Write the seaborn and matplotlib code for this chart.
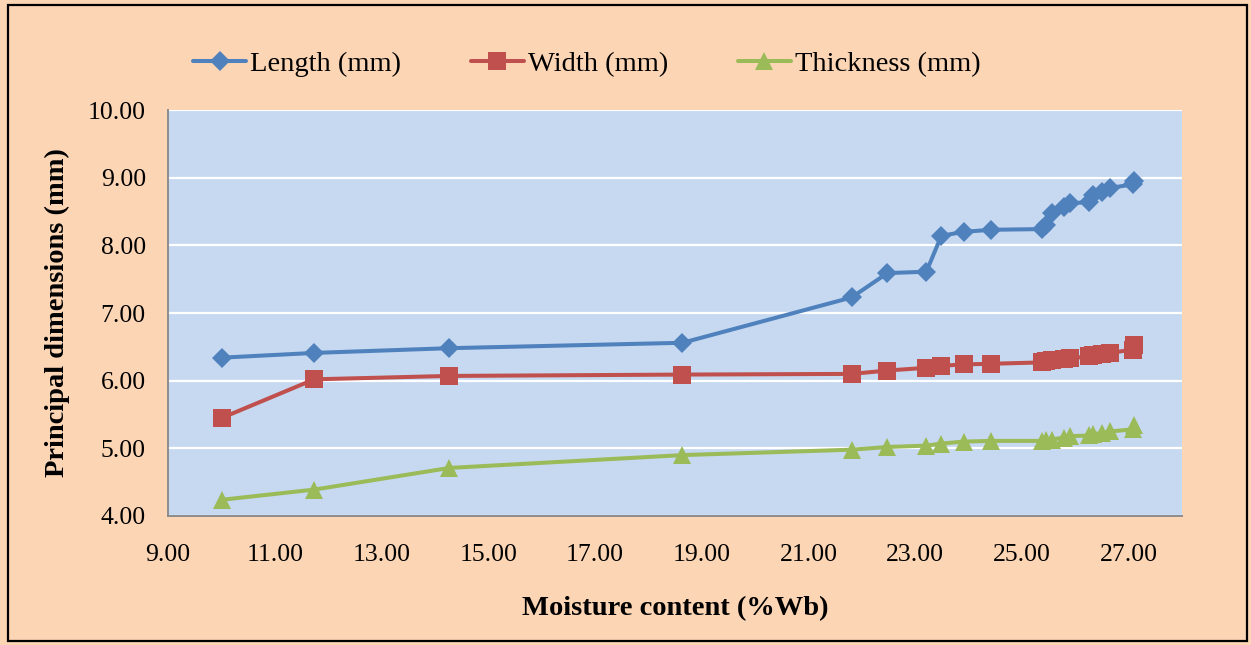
import matplotlib
matplotlib.use("Agg")
import matplotlib.pyplot as plt
import seaborn as sns
import pandas as pd
from matplotlib.patches import Rectangle
from matplotlib.ticker import FormatStrFormatter

# ---- data ----
moisture = [10.01, 11.74, 14.27, 18.64, 21.81, 22.48, 23.21, 23.49, 23.91, 24.43,
            25.38, 25.46, 25.57, 25.78, 25.91, 26.25, 26.34, 26.51, 26.66, 27.08, 27.10]
length = [6.34, 6.41, 6.48, 6.56, 7.23, 7.59, 7.61, 8.14, 8.20, 8.23,
          8.24, 8.30, 8.48, 8.56, 8.62, 8.64, 8.74, 8.79, 8.85, 8.90, 8.95]
width = [5.45, 6.02, 6.07, 6.09, 6.10, 6.15, 6.19, 6.22, 6.24, 6.25,
         6.27, 6.29, 6.31, 6.32, 6.33, 6.36, 6.38, 6.39, 6.41, 6.46, 6.53]
thickness = [4.24, 4.39, 4.71, 4.90, 4.98, 5.02, 5.04, 5.07, 5.10, 5.11,
             5.11, 5.12, 5.13, 5.16, 5.18, 5.19, 5.21, 5.23, 5.25, 5.28, 5.35]
series_names = ["Length (mm)", "Width (mm)", "Thickness (mm)"]
x_ticks = [9, 11, 13, 15, 17, 19, 21, 23, 25, 27]
y_ticks = [4, 5, 6, 7, 8, 9, 10]

df = pd.DataFrame({
    "Moisture": moisture * 3,
    "Value": length + width + thickness,
    "Series": [series_names[0]] * len(moisture)
              + [series_names[1]] * len(moisture)
              + [series_names[2]] * len(moisture),
})

colors = {"Length (mm)": "#4F81BD", "Width (mm)": "#C0504D", "Thickness (mm)": "#9BBB59"}
markers = {"Length (mm)": "D", "Width (mm)": "s", "Thickness (mm)": "^"}
msizes = {"Length (mm)": 10.5, "Width (mm)": 13.5, "Thickness (mm)": 13.5}

sns.set_theme(style="white")
plt.rcParams["font.family"] = ["Liberation Serif", "DejaVu Serif"]
plt.rcParams["text.color"] = "black"
plt.rcParams["axes.labelcolor"] = "black"

fig = plt.figure(figsize=(12.51, 6.45), dpi=100)
fig.patch.set_facecolor("#FCD5B5")
ax = fig.add_axes([168 / 1251, 1 - 516 / 645, (1182 - 168) / 1251, (516 - 110) / 645])
ax.set_facecolor("#C6D9F1")

for name in series_names:
    sub = df[df["Series"] == name]
    sns.lineplot(data=sub, x="Moisture", y="Value", ax=ax, color=colors[name],
                 marker=markers[name], markersize=msizes[name], markeredgewidth=0,
                 linewidth=2.9, sort=False, label=name, estimator=None)

ax.set_xlim(9, 28)
ax.set_ylim(4, 10)
ax.set_xticks(x_ticks)
ax.set_yticks(y_ticks)
ax.xaxis.set_major_formatter(FormatStrFormatter("%.2f"))
ax.yaxis.set_major_formatter(FormatStrFormatter("%.2f"))
ax.tick_params(axis="both", length=0, labelsize=18.5, colors="black")
ax.tick_params(axis="y", pad=16)
ax.tick_params(axis="x", pad=20.5)
ax.grid(axis="y", color="white", linewidth=1.6)
ax.grid(axis="x", visible=False)
for side in ["top", "right"]:
    ax.spines[side].set_visible(False)
for side in ["left", "bottom"]:
    ax.spines[side].set_color("#8C8C8C")
    ax.spines[side].set_linewidth(1.4)

ax.set_xlabel("Moisture content (%Wb)", fontsize=20.5, fontweight="bold", color="black")
ax.set_ylabel("Principal dimensions (mm)", fontsize=20.5, fontweight="bold", color="black")
ax.xaxis.set_label_coords(0.5, -0.197)
ax.yaxis.set_label_coords(-0.097, 0.5)

handles, labels = ax.get_legend_handles_labels()
ax.get_legend().remove()
fig.legend(handles, labels, loc="center", bbox_to_anchor=(587 / 1251, 1 - 64 / 645),
           ncol=3, frameon=False, fontsize=20.5, handlelength=1.85, handletextpad=0.15,
           columnspacing=2.45, labelcolor="black")

fig.add_artist(Rectangle((8 / 1251, 4 / 645), (1247 - 8) / 1251, (641 - 5) / 645,
                         transform=fig.transFigure, fill=False, edgecolor="black",
                         linewidth=1.6))

fig.savefig("out.png", dpi=100, facecolor=fig.get_facecolor())
